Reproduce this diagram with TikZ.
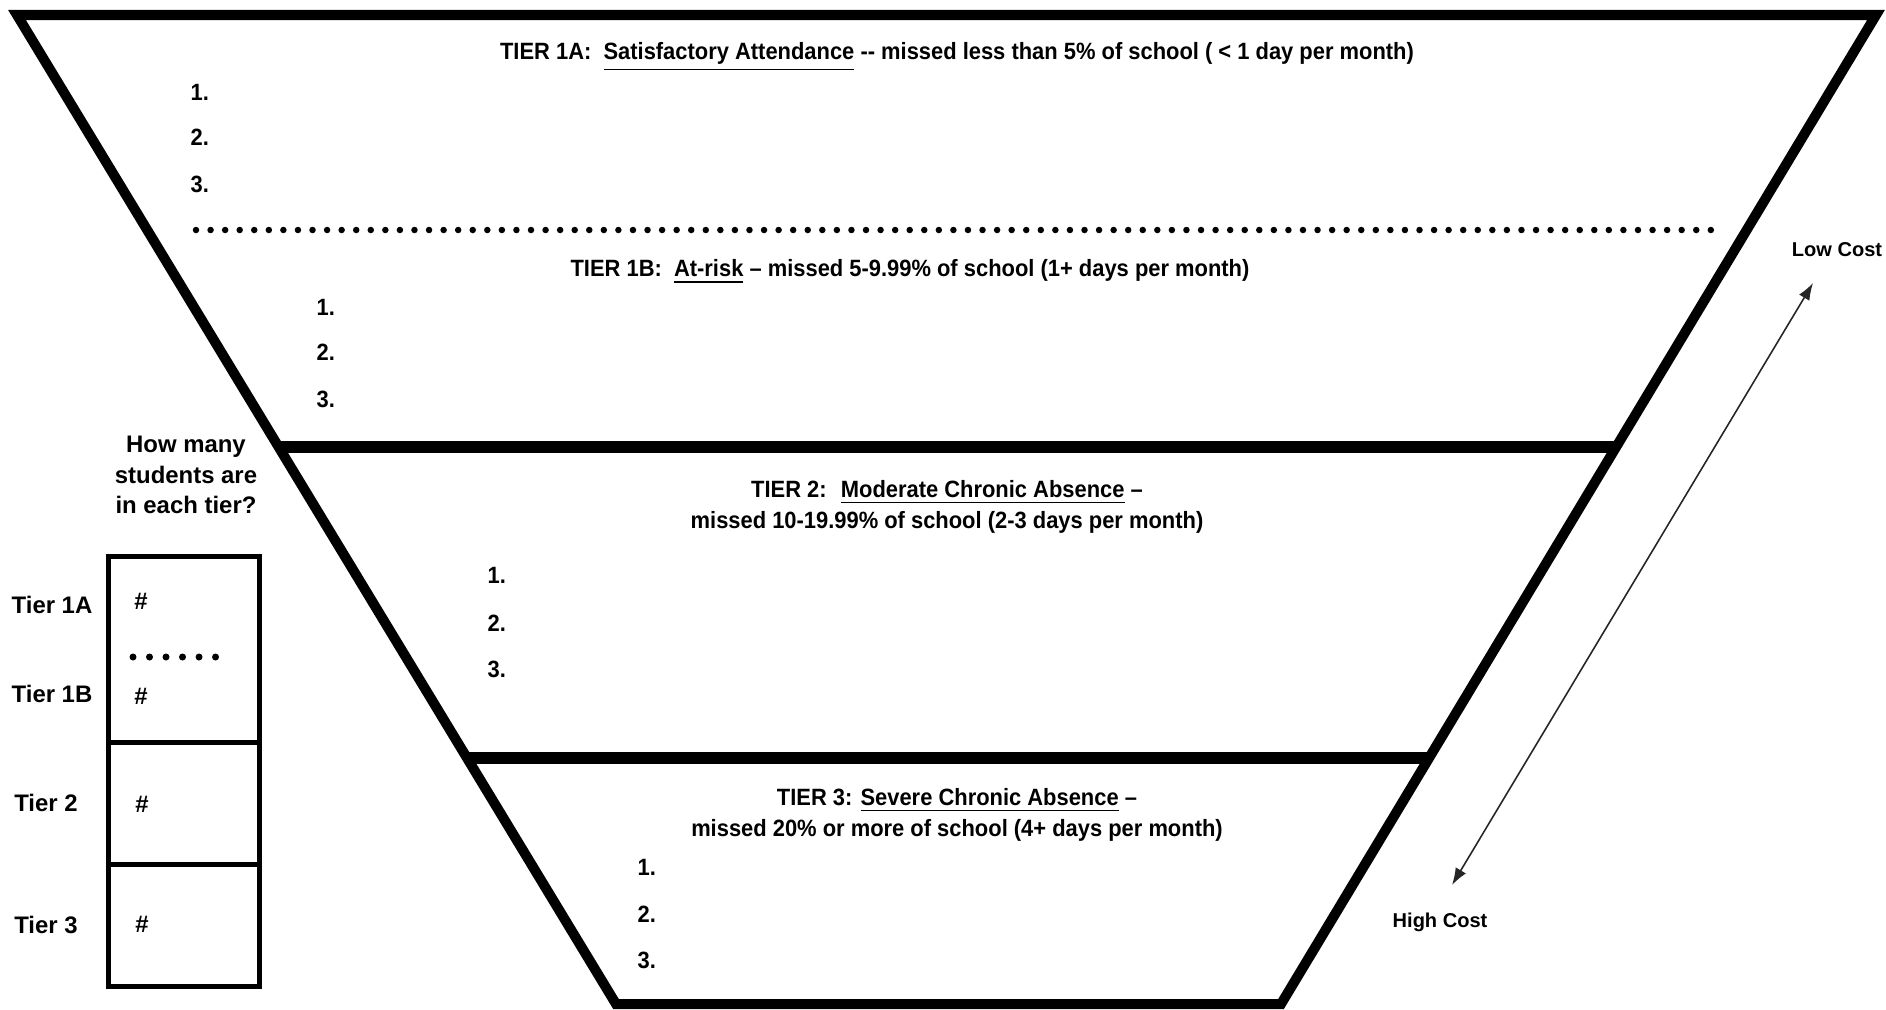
\documentclass[tikz,border=0pt]{standalone}
\usepackage{fontspec}
\setmainfont{Liberation Sans}
\newfontfamily\funnelfont[FakeStretch=0.93]{Liberation Sans}
\usetikzlibrary{arrows.meta}
\tikzset{
  funnel/.style={line width=0.1cm, line join=miter},
  divider/.style={line width=0.12cm},
  panelbox/.style={line width=0.05cm},
  tiertitle/.style={font=\funnelfont\bfseries\fontsize{6.7pt}{8.8pt}\selectfont, align=center, inner sep=0pt},
  itemnum/.style={font=\funnelfont\bfseries\fontsize{6.7pt}{8.8pt}\selectfont, anchor=west, inner sep=0pt},
  panel/.style={font=\bfseries\fontsize{6.8pt}{8.6pt}\selectfont, align=center, inner sep=0pt},
  cost/.style={font=\bfseries\fontsize{5.7pt}{7pt}\selectfont, inner sep=0pt},
  dotrow/.style={line width=0.065cm, line cap=round, dash pattern=on 0pt off 0.14557cm},
  smalldots/.style={line width=0.07cm, line cap=round, dash pattern=on 0pt off 0.165cm},
  costarrow/.style={{Latex[length=0.17cm,width=0.12cm]}-{Latex[length=0.17cm,width=0.12cm]}, line width=0.45pt, black!85}
}
\begin{document}
\begin{tikzpicture}[x=0.01cm, y=-0.01cm]
\useasboundingbox (0,0) rectangle (1886,1009);
% funnel corners
\coordinate (tl) at (17,15);
\coordinate (tr) at (1876,15);
\coordinate (br) at (1281,1004);
\coordinate (bl) at (616,1004);
\coordinate (m1l) at (279,447);
\coordinate (m1r) at (1616,447);
\coordinate (m2l) at (467,758);
\coordinate (m2r) at (1429,758);
\draw[funnel] (tl) -- (tr) -- (br) -- (bl) -- cycle;
\draw[divider] (m1l) -- (m1r);
\draw[divider] (m2l) -- (m2r);
% dotted separator tier 1A / 1B
\coordinate (d1) at (196,230);
\coordinate (d2) at (1712,230);
\draw[dotrow] (d1) -- (d2);

% tier titles
\node[tiertitle] (t1a) at (957,57) {TIER 1A:~ \underline{Satisfactory Attendance} -{}- missed less than 5\% of school ( < 1 day per month)};
\node[tiertitle] (t1b) at (910,272) {TIER 1B:~ \underline{At-risk} – missed 5-9.99\% of school (1+ days per month)};
\node[tiertitle] (t2) at (947,507) {TIER 2:~ \underline{Moderate Chronic Absence} –\\missed 10-19.99\% of school (2-3 days per month)};
\node[tiertitle] (t3) at (957,815) {TIER 3: \underline{Severe Chronic Absence} –\\missed 20\% or more of school (4+ days per month)};

% item numbers
\node[itemnum] (a1) at (190,92) {1.};
\node[itemnum] (a2) at (190,137) {2.};
\node[itemnum] (a3) at (190,184) {3.};
\node[itemnum] (b1) at (316,307) {1.};
\node[itemnum] (b2) at (316,352) {2.};
\node[itemnum] (b3) at (316,399) {3.};
\node[itemnum] (c1) at (487,575) {1.};
\node[itemnum] (c2) at (487,623) {2.};
\node[itemnum] (c3) at (487,669) {3.};
\node[itemnum] (e1) at (637,867) {1.};
\node[itemnum] (e2) at (637,914) {2.};
\node[itemnum] (e3) at (637,960) {3.};

% left panel
\node[panel] (q) at (186,475) {How many\\students are\\in each tier?};
\draw[panelbox] (108.5,556) rectangle (259,986);
\draw[panelbox] (108.5,742) -- (259,742);
\draw[panelbox] (108.5,864) -- (259,864);
\coordinate (s1) at (133,657);
\coordinate (s2) at (219,657);
\draw[smalldots] (s1) -- (s2);
\node[panel] (l1a) at (52,605) {Tier 1A};
\node[panel] (l1b) at (52,694) {Tier 1B};
\node[panel] (l2) at (46,803) {Tier 2};
\node[panel] (l3) at (46,925) {Tier 3};
\node[panel] (h1) at (141,601) {\#};
\node[panel] (h2) at (141,696) {\#};
\node[panel] (h3) at (142,804) {\#};
\node[panel] (h4) at (142,924) {\#};

% cost arrow
\node[cost] (low) at (1837,250) {Low Cost};
\node[cost] (high) at (1440,922) {High Cost};
\coordinate (lowtip) at (1813,283);
\coordinate (hightip) at (1452,885);
\draw[costarrow] (hightip) -- (lowtip);
\end{tikzpicture}
\end{document}
